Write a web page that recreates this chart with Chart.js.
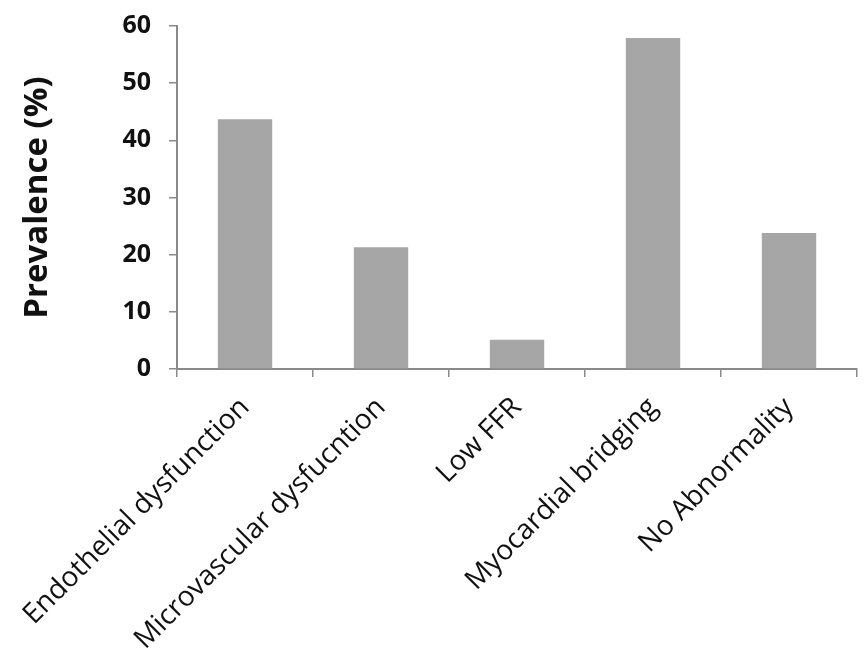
<!doctype html>
<html lang="en">
  <head>
    <meta charset="UTF-8">
    <title>Prevalence</title>
    <style>
      html, body { margin: 0; padding: 0; background: #fff; }
      #wrap { width: 865px; height: 669px; }
    </style>
  </head>
  <body>
    <div id="wrap"><canvas id="myChart" width="865" height="669"></canvas></div>
    <script src="https://cdn.jsdelivr.net/npm/chart.js@4.4.1/dist/chart.umd.min.js"></script>
    <script>
    // Data-----
    const categories = [
      'Endothelial dysfunction',
      'Microvascular dysfucntion',
      'Low FFR',
      'Myocardial bridging',
      'No Abnormality'
    ];
    const prevalence = [43.7, 21.3, 5.1, 57.9, 23.8];
    const yTicks = [0, 10, 20, 30, 40, 50, 60];
    // Data-----

    const font = "'Open Sans', 'Noto Sans', sans-serif";
    const axisGray = '#8a8a8a';

    const config = {
      type: 'bar',
      data: {
        labels: categories,
        datasets: [{
          label: 'Prevalence',
          data: prevalence,
          backgroundColor: '#a6a6a6',
          borderWidth: 0,
          categoryPercentage: 1.0,
          barPercentage: 0.4
        }]
      },
      options: {
        responsive: false,
        animation: false,
        layout: { padding: { top: 26, right: 8, left: 0, bottom: 0 } },
        plugins: {
          legend: { display: false },
          tooltip: { enabled: false }
        },
        scales: {
          x: {
            offset: true,
            grid: {
              offset: true,
              drawOnChartArea: false,
              tickLength: 8,
              color: axisGray,
              lineWidth: 1.5
            },
            border: { color: axisGray, width: 2 },
            ticks: {
              color: '#111',
              minRotation: 45,
              maxRotation: 45,
              padding: 14,
              font: { family: font, size: 28 }
            },
            afterFit(scale) {
              scale.height = 300;
              scale.paddingLeft = 0;
              scale.paddingRight = 0;
            }
          },
          y: {
            min: 0,
            max: 60,
            afterBuildTicks(scale) {
              scale.ticks = yTicks.map(v => ({ value: v }));
            },
            grid: {
              drawOnChartArea: false,
              tickLength: 8,
              color: axisGray,
              lineWidth: 1.5
            },
            border: { color: axisGray, width: 2 },
            ticks: {
              color: '#111',
              padding: 18,
              font: { family: font, size: 25, weight: 'bold' }
            },
            title: {
              display: true,
              text: 'Prevalence (%)',
              color: '#111',
              padding: { top: 18, bottom: 0 },
              font: { family: font, size: 33, weight: 'bold' }
            },
            afterFit(scale) {
              scale.width = 177;
              scale.paddingTop = 0;
              scale.paddingBottom = 0;
            }
          }
        }
      }
    };

    const myChart = new Chart(document.getElementById('myChart'), config);
    </script>
  </body>
</html>
